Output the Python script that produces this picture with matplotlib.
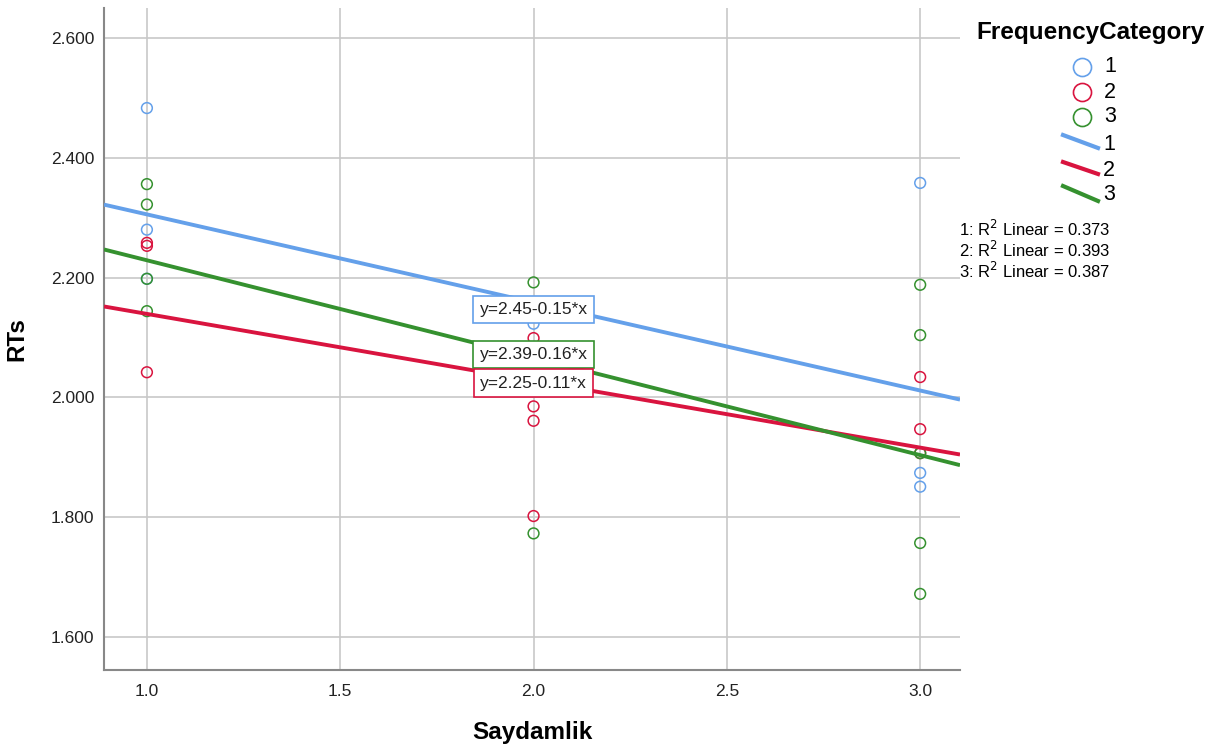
import numpy as np
import matplotlib
matplotlib.use('Agg')
import matplotlib.pyplot as plt
from matplotlib.lines import Line2D

plt.rcParams['font.family'] = ['Liberation Sans', 'DejaVu Sans']

# Scatter points, per FrequencyCategory
cat1_x = [1, 1, 1, 2, 3, 3, 3]
cat1_y = [2.483, 2.280, 2.198, 2.123, 2.358, 1.874, 1.851]
cat2_x = [1, 1, 1, 2, 2, 2, 2, 3, 3, 3]
cat2_y = [2.258, 2.253, 2.042, 2.099, 1.985, 1.961, 1.802, 2.034, 1.947, 1.907]
cat3_x = [1, 1, 1, 1, 2, 2, 3, 3, 3, 3, 3]
cat3_y = [2.356, 2.322, 2.198, 2.144, 2.192, 1.773, 2.188, 2.104, 1.907, 1.757, 1.672]

# Fit lines (intercept, slope) and their labels
intercepts = [2.4525, 2.251, 2.3915]
slopes = [-0.147, -0.1116, -0.1626]
fit_labels = ['y=2.45-0.15*x', 'y=2.25-0.11*x', 'y=2.39-0.16*x']
label_y = [2.147, 2.024, 2.071]
r2_values = [0.373, 0.393, 0.387]
categories = ['1', '2', '3']

colors = ['#64a0ea', '#d9143f', '#35912f']

fig = plt.figure(figsize=(12.32, 7.54), dpi=100)
ax = fig.add_axes([104 / 1232, 84 / 754, 856 / 1232, 662 / 754])

xlim = (0.889, 3.103)
ax.set_xlim(*xlim)
ax.set_ylim(1.545, 2.650)

ax.set_xticks([1.0, 1.5, 2.0, 2.5, 3.0])
ax.set_yticks([1.6, 1.8, 2.0, 2.2, 2.4, 2.6])
ax.xaxis.set_major_formatter(matplotlib.ticker.FormatStrFormatter('%.1f'))
ax.yaxis.set_major_formatter(matplotlib.ticker.FormatStrFormatter('%.3f'))
ax.grid(True, color='#c8c8c8', linewidth=1.2)
ax.set_axisbelow(True)
ax.tick_params(axis='y', length=0, labelsize=12.5, pad=7, colors='#222222')
ax.tick_params(axis='x', length=0, labelsize=12.5, pad=10, colors='#222222')
for s in ['top', 'right']:
    ax.spines[s].set_visible(False)
for s in ['left', 'bottom']:
    ax.spines[s].set_color('#888888')
    ax.spines[s].set_linewidth(1.5)

ax.set_xlabel('Saydamlik', fontsize=17.5, fontweight='bold', labelpad=16)
ax.set_ylabel('RTs', fontsize=17.5, fontweight='bold', labelpad=16)

xs = [cat1_x, cat2_x, cat3_x]
ys = [cat1_y, cat2_y, cat3_y]
for i in range(3):
    ax.scatter(xs[i], ys[i], s=60, facecolors='none', edgecolors=colors[i],
               linewidths=1.1, zorder=3)

xx = np.array(xlim)
for i in range(3):
    ax.plot(xx, intercepts[i] + slopes[i] * xx, color=colors[i], lw=2.8,
            zorder=4, solid_capstyle='butt')

for i in [0, 2, 1]:
    ax.text(2.0, label_y[i], fit_labels[i], ha='center', va='center',
            fontsize=12.5, color='#222222', zorder=6,
            bbox=dict(boxstyle='square,pad=0.35', fc='white', ec=colors[i], lw=1.2))

# Legend drawn by hand to match the SPSS layout
W, H = 1232.0, 754.0
fig.text(1090 / W, 1 - 32 / H, 'FrequencyCategory', fontsize=17.5,
         fontweight='bold', ha='center', va='center')
marker_rows = [67, 92, 117]
for i in range(3):
    yy = 1 - marker_rows[i] / H
    fig.add_artist(Line2D([1082 / W], [yy], marker='o', ms=13,
                          mfc='none', mec=colors[i], mew=1.2, ls='none'))
    fig.text(1104 / W, yy, categories[i], fontsize=15.5, ha='left', va='center')
line_rows = [(135, 148, 145), (162, 174, 171), (186, 201, 194)]
for i in range(3):
    ya, yb, yl = line_rows[i]
    fig.add_artist(Line2D([1063 / W, 1098 / W], [1 - ya / H, 1 - yb / H],
                          color=colors[i], lw=3))
    fig.text(1103 / W, 1 - yl / H, categories[i], fontsize=15.5,
             ha='left', va='center')
for i in range(3):
    fig.text(959 / W, 1 - (229 + 21 * i) / H,
             '%d: R$^2$ Linear = %.3f' % (i + 1, r2_values[i]),
             fontsize=12, ha='left', va='center')

fig.savefig('out.png', dpi=100)
